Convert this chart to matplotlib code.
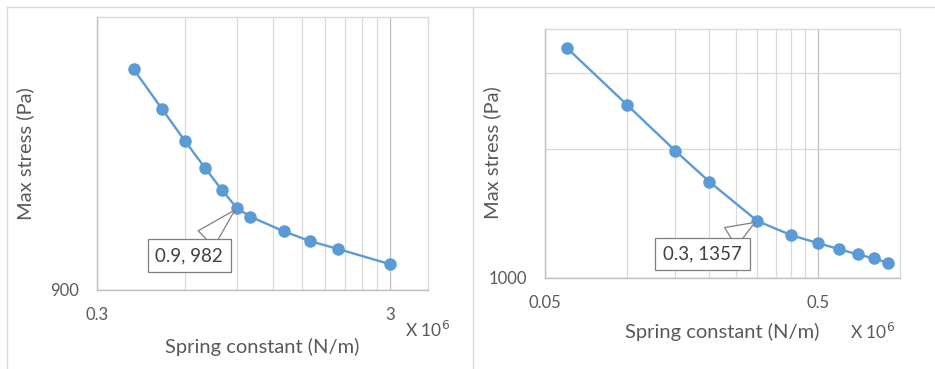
import matplotlib
matplotlib.use("Agg")
import matplotlib.pyplot as plt
from matplotlib.ticker import FixedLocator, NullFormatter, FuncFormatter
from matplotlib.lines import Line2D

plt.rcParams['font.family'] = ['Lato', 'DejaVu Sans']

# ---- data ----
left_k = [0.4, 0.5, 0.6, 0.7, 0.8, 0.9, 1.0, 1.3, 1.6, 2.0, 3.0]
left_stress = [1138, 1091, 1054, 1025, 1001, 982, 973, 958, 948, 940, 925]
left_xticks = [0.3, 3]
left_yticks = [900]
left_note = (0.9, 982)

right_k = [0.06, 0.1, 0.15, 0.2, 0.3, 0.4, 0.5, 0.6, 0.7, 0.8, 0.9]
right_stress = [3432, 2526, 1977, 1675, 1357, 1257, 1206, 1166, 1135, 1111, 1085]
right_xticks = [0.05, 0.5]
right_yticks = [1000]
right_note = (0.3, 1357)

BLUE = '#5B9BD5'
GRID = '#D9D9D9'
GRID_MAJ = '#BFBFBF'
TXT = '#595959'

fig = plt.figure(figsize=(9.35, 3.69), dpi=100)
W, H = 935, 369

# panel frames
fig.add_artist(Line2D([7 / W, 1.0], [1 - 7 / H] * 2, color='#D9D9D9', lw=1))
fig.add_artist(Line2D([7 / W] * 2, [0, 1 - 7 / H], color='#D9D9D9', lw=1))
fig.add_artist(Line2D([473 / W] * 2, [0, 1 - 7 / H], color='#D9D9D9', lw=1))


def make_panel(rect, xs, ys, xlim, ylim, xticks, yticks, minor_x, minor_y,
               note, note_pos, xl_pos, yl_pos, exp_pos):
    l, r, t, b = rect
    ax = fig.add_axes([l / W, 1 - b / H, (r - l) / W, (b - t) / H])
    ax.set_xscale('log')
    ax.set_yscale('log')
    ax.set_xlim(*xlim)
    ax.set_ylim(*ylim)
    ax.xaxis.set_major_locator(FixedLocator(xticks))
    ax.xaxis.set_minor_locator(FixedLocator(minor_x))
    ax.yaxis.set_major_locator(FixedLocator(yticks))
    ax.yaxis.set_minor_locator(FixedLocator(minor_y))
    ax.xaxis.set_major_formatter(FuncFormatter(lambda v, p: f'{v:g}'))
    ax.yaxis.set_major_formatter(FuncFormatter(lambda v, p: f'{v:g}'))
    ax.xaxis.set_minor_formatter(NullFormatter())
    ax.yaxis.set_minor_formatter(NullFormatter())
    ax.tick_params(which='both', length=0, labelsize=12, labelcolor=TXT)
    ax.tick_params(axis='x', pad=12)
    ax.tick_params(axis='y', pad=13)
    ax.grid(which='minor', color=GRID, lw=0.9)
    ax.grid(which='major', color=GRID_MAJ, lw=0.9)
    for s in ax.spines.values():
        s.set_color(GRID)
        s.set_linewidth(1.0)
    ax.spines['left'].set_color(GRID_MAJ)
    ax.spines['bottom'].set_color(GRID_MAJ)
    ax.set_axisbelow(True)
    ax.plot(xs, ys, color=BLUE, lw=1.7, marker='o', ms=8, mfc=BLUE, mec=BLUE,
            clip_on=False, zorder=3)
    ax.annotate(f'{note[0]:g}, {note[1]:g}', xy=note, xycoords='data',
                xytext=note_pos, textcoords='axes fraction',
                ha='center', va='center', fontsize=13.5, color='#404040',
                bbox=dict(boxstyle='square,pad=0.42', fc='white', ec='#7F7F7F', lw=0.9),
                arrowprops=dict(arrowstyle='wedge,tail_width=1.2,shrink_factor=0.5',
                                fc='white', ec='#7F7F7F', lw=0.9, shrinkA=0, shrinkB=2),
                zorder=4)
    ax.set_xlabel('Spring constant (N/m)', fontsize=14.5, color=TXT)
    ax.xaxis.set_label_coords(*xl_pos)
    ax.xaxis.label.set_va('center')
    ax.set_ylabel('Max stress (Pa)', fontsize=14.5, color=TXT)
    ax.yaxis.set_label_coords(*yl_pos)
    ax.yaxis.label.set_va('center')
    fig.text(exp_pos[0] / W, 1 - exp_pos[1] / H, 'X 10$^6$', fontsize=12.5, color=TXT,
             ha='center', va='center')
    return ax


lx0 = left_xticks[0]
make_panel((97, 428, 17, 290), left_k, left_stress, (0.3, 4.04), (900, 1203),
           left_xticks, left_yticks, [lx0 * k for k in range(2, 10)], [],
           left_note, (0.279, 0.126), (0.4985, -0.209), (-0.2175, 0.498), (428, 330))

rx0 = right_xticks[0]
make_panel((545, 900, 29, 278), right_k, right_stress, (0.05, 1.0), (1000, 3793),
           right_xticks, right_yticks, [rx0 * k for k in range(2, 10)], [2000, 3000],
           right_note, (0.4437, 0.0964), (0.5, -0.217), (-0.149, 0.502), (873, 332))

fig.savefig('out.png', dpi=100)
